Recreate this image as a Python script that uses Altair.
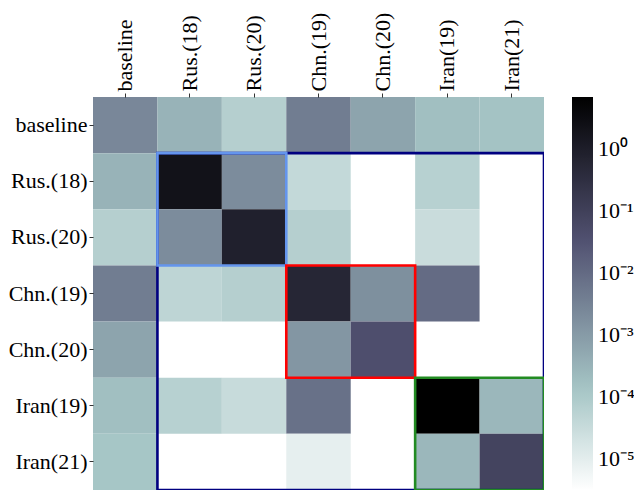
import altair as alt
import pandas as pd

labels = ["baseline", "Rus.(18)", "Rus.(20)", "Chn.(19)", "Chn.(20)", "Iran(19)", "Iran(21)"]

# rows of the matrix (None = empty / white cell)
row_baseline = [2.5e-3, 3.2e-4, 7.0e-5, 4.0e-3, 6.5e-4, 1.8e-4, 1.5e-4]
row_rus18 = [3.2e-4, 2.1, 2.0e-3, 3.8e-5, None, 6.3e-5, None]
row_rus20 = [7.0e-5, 2.0e-3, 0.8, 7.0e-5, None, 3.0e-5, None]
row_chn19 = [4.0e-3, 4.8e-5, 7.0e-5, 0.56, 1.7e-3, 9.5e-3, None]
row_chn20 = [6.5e-4, None, None, 1.26e-3, 4.0e-2, None, None]
row_iran19 = [1.8e-4, 6.3e-5, 3.2e-5, 7.2e-3, None, 7.0, 2.6e-4]
row_iran21 = [1.3e-4, None, None, 9.0e-6, None, 2.6e-4, 7.6e-2]
matrix = [row_baseline, row_rus18, row_rus20, row_chn19, row_chn20, row_iran19, row_iran21]

# highlight boxes in cell-index units
box_x0 = [1, 1, 3, 5]
box_x1 = [7, 3, 5, 7]
box_y0 = [1, 1, 3, 5]
box_y1 = [7, 3, 5, 7]
box_colors = ["#000080", "#6495ED", "#FF0000", "#228B22"]

# colour scale: log, bone_r
log_min, log_max = -5.5, 0.83
bone_t = [0.0, 0.253968, 0.634921, 1.0]
bone_r_colors = ["#ffffff", "#a6c6c6", "#515171", "#000000"]
color_domain = [10 ** (log_min + t * (log_max - log_min)) for t in bone_t]

records = []
for i, r in enumerate(labels):
    for j, c in enumerate(labels):
        v = matrix[i][j]
        if v is not None:
            records.append({"row": r, "col": c, "value": v})
df = pd.DataFrame(records)

boxes = pd.DataFrame({"x0": box_x0, "x1": box_x1, "y0": box_y0, "y1": box_y1, "c": box_colors})

FONT = "Liberation Serif"
FS = 22

label_expr = ("datum.value > 0.5 ? '10⁰' : datum.value > 0.05 ? '10⁻¹' : "
              "datum.value > 0.005 ? '10⁻²' : datum.value > 0.0005 ? '10⁻³' : "
              "datum.value > 0.00005 ? '10⁻⁴' : '10⁻⁵'")

W, H = 451, 393

heat = alt.Chart(df).mark_rect().encode(
    x=alt.X("col:N", sort=labels,
            scale=alt.Scale(paddingInner=0, paddingOuter=0),
            axis=alt.Axis(orient="top", title=None, labelAngle=270, labelAlign="left",
                          labelBaseline="middle", labelFont=FONT, labelFontSize=FS,
                          labelColor="black", labelPadding=2, tickSize=4, tickColor="black",
                          tickWidth=0.8, domain=False)),
    y=alt.Y("row:N", sort=labels,
            scale=alt.Scale(paddingInner=0, paddingOuter=0),
            axis=alt.Axis(title=None, labelFont=FONT, labelFontSize=FS, labelColor="black",
                          labelPadding=2, tickSize=4, tickColor="black", tickWidth=0.8,
                          domain=False)),
    color=alt.Color("value:Q",
                    scale=alt.Scale(type="log", domain=color_domain, range=bone_r_colors,
                                    interpolate="rgb", clamp=True),
                    legend=alt.Legend(title=None, values=[1e-5, 1e-4, 1e-3, 1e-2, 1e-1, 1],
                                      labelExpr=label_expr, gradientLength=H,
                                      gradientThickness=21, labelFont=FONT, labelFontSize=FS,
                                      labelColor="black", labelOffset=5, offset=28, padding=0,
                                      gradientStrokeWidth=0, direction="vertical",
                                      orient="right")),
)

box_layer = alt.Chart(boxes).mark_rect(filled=False, strokeWidth=2.6, clip=True).encode(
    x=alt.X("x0:Q", scale=alt.Scale(domain=[0, 7], nice=False, zero=False), axis=None),
    x2="x1:Q",
    y=alt.Y("y0:Q", scale=alt.Scale(domain=[0, 7], nice=False, zero=False, reverse=True),
            axis=None),
    y2="y1:Q",
    stroke=alt.Stroke("c:N", scale=None),
)

chart = alt.layer(heat, box_layer).resolve_scale(
    x="independent", y="independent"
).properties(
    width=W, height=H,
    padding={"left": 85, "top": 89, "right": 90, "bottom": 0},
    autosize=alt.AutoSizeParams(type="none"),
).configure_view(stroke=None)

chart.save("out.html", embed_options={"renderer": "svg", "actions": False})
